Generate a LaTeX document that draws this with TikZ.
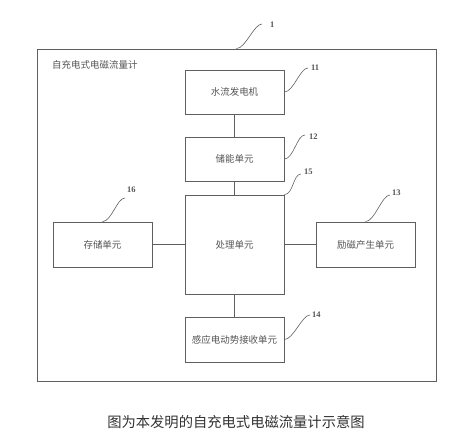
\documentclass[tikz,border=0pt]{standalone}
\usepackage{fontspec}
\setmainfont{Liberation Serif}
\newfontfamily\cjk{Noto Sans CJK SC}
\usepackage{tikz}
\usetikzlibrary{positioning}
\definecolor{linegray}{RGB}{95,95,95}
\definecolor{textgray}{RGB}{85,85,85}
\tikzset{
  unitbox/.style={draw=linegray,line width=0.8pt,minimum width=99pt,minimum height=44pt,inner sep=0pt,
    font=\cjk\fontsize{9.5}{11}\selectfont,text=textgray},
  reflab/.style={font=\fontsize{8.5}{9}\selectfont\bfseries,text=textgray,inner sep=0pt,anchor=west},
  lead/.style={draw=linegray,line width=0.6pt},
  wire/.style={draw=linegray,line width=0.8pt}
}
\begin{document}
\begin{tikzpicture}[x=1pt,y=-1pt]
  \useasboundingbox (0,0) rectangle (475,446);
  % outer frame
  \node[draw=linegray,line width=0.9pt,minimum width=399pt,minimum height=332pt,inner sep=0pt] (meter) at (236.5,215) {};
  \node[font=\cjk\fontsize{9.5}{11}\selectfont,text=textgray,anchor=west,inner sep=0pt] (title) at (52,65) {自充电式电磁流量计};
  % units
  \node[unitbox] (gen) at (234.5,92) {水流发电机};
  \node[unitbox] (store) at (234.5,159) {储能单元};
  \node[unitbox,minimum height=99pt] (proc) at (234.5,244.5) {处理单元};
  \node[unitbox,minimum height=45pt] (mem) at (102.5,244.5) {存储单元};
  \node[unitbox,minimum height=45pt] (excite) at (365.5,244.5) {励磁产生单元};
  \node[unitbox,minimum height=45pt] (emf) at (234.5,339.5) {感应电动势接收单元};
  % connections
  \draw[wire] (gen) -- (store);
  \draw[wire] (store) -- (proc);
  \draw[wire] (mem) -- (proc);
  \draw[wire] (proc) -- (excite);
  \draw[wire] (proc) -- (emf);
  % reference numerals
  \foreach \n/\from/\x/\y/\lx/\ly in {1/meter.north/262/24/270/25, 11/gen.east/308/68/311/68,
      12/store.east/305/135/309/137, 15/proc.north east/301/174/304/172,
      16/mem.north/125/198/127/190, 13/excite.north/390/195/392/193, 14/emf.east/310/315/312/315}{
    \coordinate (t\n) at (\x,\y);
    \draw[lead] (\from) .. controls +(9,0) and +(-8,0) .. (t\n);
    \node[reflab] (l\n) at (\lx,\ly) {\n};
  }
  % caption
  \node[font=\cjk\fontsize{14.3}{16}\selectfont,text=black!80] (caption) at (236,422) {图为本发明的自充电式电磁流量计示意图};
\end{tikzpicture}
\end{document}
